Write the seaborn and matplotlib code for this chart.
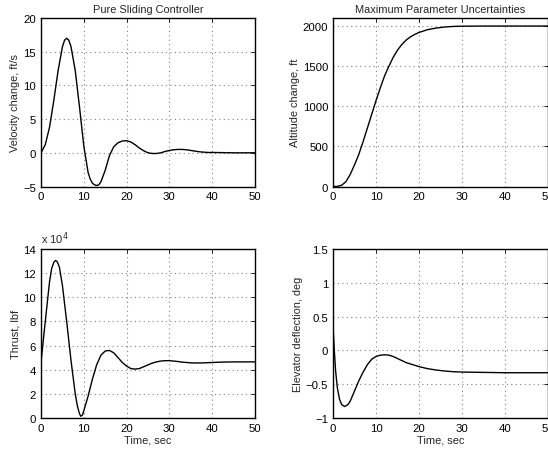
import numpy as np
import pandas as pd
import matplotlib
matplotlib.use("Agg")
import matplotlib.pyplot as plt
import seaborn as sns

# --- Data (time in sec) ---
vel_t = [0, 1, 2, 3, 4, 5, 5.5, 6, 6.5, 7, 8, 9, 10, 11, 11.5, 12, 12.5, 13,
         13.5, 14, 15, 16, 17, 18, 19, 20, 21, 22, 23, 24, 25, 26, 27, 28, 29,
         30, 31, 32, 33, 34, 35, 36, 37, 38, 39, 40, 42, 45, 50]
vel_v = [0, 1.2, 3.8, 7.8, 12.2, 15.7, 16.7, 17.0, 16.7, 15.8, 12.2, 6.8, 1.0,
         -2.9, -3.9, -4.5, -4.75, -4.85, -4.75, -4.3, -2.6, -0.4, 0.9, 1.5,
         1.75, 1.8, 1.6, 1.2, 0.7, 0.3, 0.0, -0.1, -0.1, 0.0, 0.2, 0.35, 0.45,
         0.5, 0.5, 0.45, 0.35, 0.25, 0.15, 0.1, 0.05, 0.05, 0.03, 0.0, 0.0]

alt_t = [0, 1, 2, 3, 4, 5, 6, 7, 8, 9, 10, 11, 12, 13, 14, 15, 16, 17, 18, 19,
         20, 22, 24, 26, 28, 30, 35, 40, 50]
alt_v = [0, 2, 15, 60, 150, 270, 400, 560, 730, 900, 1070, 1230, 1380, 1500,
         1610, 1700, 1770, 1825, 1865, 1895, 1920, 1955, 1975, 1988, 1995, 1998,
         2000, 2000, 2000]

thr_t = [0, 1, 2, 2.5, 3, 3.4, 3.8, 4.3, 5, 6, 7, 8, 8.5, 9, 9.3, 9.7, 10, 11,
         12, 13, 14, 15, 16, 17, 18, 19, 20, 21, 22, 23, 24, 25, 26, 27, 28, 29,
         30, 31, 32, 33, 34, 35, 36, 37, 38, 40, 42, 45, 50]
thr_v = [4.6, 8.0, 11.3, 12.4, 12.9, 13.05, 12.95, 12.5, 11.0, 8.0, 4.8, 2.0,
         1.0, 0.35, 0.15, 0.25, 0.6, 1.8, 3.2, 4.4, 5.2, 5.55, 5.6, 5.4, 5.0,
         4.6, 4.3, 4.1, 4.05, 4.1, 4.25, 4.4, 4.55, 4.65, 4.72, 4.75, 4.75,
         4.72, 4.68, 4.63, 4.6, 4.57, 4.56, 4.56, 4.57, 4.6, 4.63, 4.65, 4.65]  # x 10^4 lbf

elv_t = [0, 0.3, 0.6, 1, 1.5, 2, 2.7, 3.5, 4, 5, 6, 7, 8, 9, 10, 11, 12, 13,
         14, 15, 16, 17, 18, 19, 20, 22, 24, 26, 28, 30, 35, 40, 50]
elv_v = [0.35, 0.0, -0.3, -0.55, -0.72, -0.8, -0.83, -0.8, -0.75, -0.6, -0.45,
         -0.32, -0.21, -0.13, -0.09, -0.07, -0.065, -0.07, -0.09, -0.12, -0.15,
         -0.18, -0.2, -0.22, -0.24, -0.27, -0.29, -0.305, -0.315, -0.32, -0.325,
         -0.33, -0.33]

x_ticks = [0, 10, 20, 30, 40, 50]


def style_axis(ax, ylim, yticks):
    ax.set_xlim(0, 50)
    ax.set_ylim(*ylim)
    ax.set_xticks(x_ticks)
    ax.set_yticks(yticks)
    ax.grid(True, color="#808080", linestyle=(0, (1, 3)), linewidth=0.8)
    for s in ax.spines.values():
        s.set_color("black")
        s.set_linewidth(1.0)
    ax.tick_params(direction="in", length=3, width=0.6, top=True, right=True,
                   labelsize=8.2, colors="black", pad=3.5)
    ax.set_xlabel("")
    ax.set_ylabel("")


def main():
    sns.set_theme(style="white")
    plt.rcParams["font.family"] = ["Liberation Sans", "DejaVu Sans"]

    fig = plt.figure(figsize=(5.48, 4.56), dpi=100)
    ax1 = fig.add_axes([0.0748, 0.5888, 0.3905, 0.3695])
    ax2 = fig.add_axes([0.6077, 0.5888, 0.3923, 0.3695])
    ax3 = fig.add_axes([0.0748, 0.0811, 0.3905, 0.3706])
    ax4 = fig.add_axes([0.6077, 0.0811, 0.3923, 0.3706])

    sns.lineplot(x=vel_t, y=vel_v, ax=ax1, color="black", linewidth=1.0)
    sns.lineplot(x=alt_t, y=alt_v, ax=ax2, color="black", linewidth=1.0)
    sns.lineplot(x=thr_t, y=thr_v, ax=ax3, color="black", linewidth=1.0)
    sns.lineplot(x=elv_t, y=elv_v, ax=ax4, color="black", linewidth=1.0)

    style_axis(ax1, (-5, 20), [-5, 0, 5, 10, 15, 20])
    style_axis(ax2, (0, 2100), [0, 500, 1000, 1500, 2000])
    style_axis(ax3, (0, 14), [0, 2, 4, 6, 8, 10, 12, 14])
    style_axis(ax4, (-1, 1.5), [-1, -0.5, 0, 0.5, 1, 1.5])
    ax4.set_yticklabels(["\u22121", "\u22120.5", "0", "0.5", "1", "1.5"])
    ax1.set_yticklabels(["\u22125", "0", "5", "10", "15", "20"])

    lab = 7.9
    ax1.set_title("Pure Sliding Controller", fontsize=lab, pad=4)
    ax2.set_title("Maximum Parameter Uncertainties", fontsize=lab, pad=4)
    ax1.set_ylabel("Velocity change, ft/s", fontsize=lab, labelpad=2)
    ax2.set_ylabel("Altitude change, ft", fontsize=lab, labelpad=2)
    ax3.set_ylabel("Thrust, lbf", fontsize=lab, labelpad=2)
    ax4.set_ylabel("Elevator deflection, deg", fontsize=lab, labelpad=2)
    ax3.set_xlabel("Time, sec", fontsize=lab, labelpad=1)
    ax4.set_xlabel("Time, sec", fontsize=lab, labelpad=1)

    ax3.text(0.0, 1.015, "x 10$^4$", transform=ax3.transAxes, fontsize=8,
             ha="left", va="bottom")

    fig.savefig("out.png", dpi=100, facecolor="white")


if __name__ == "__main__":
    main()
